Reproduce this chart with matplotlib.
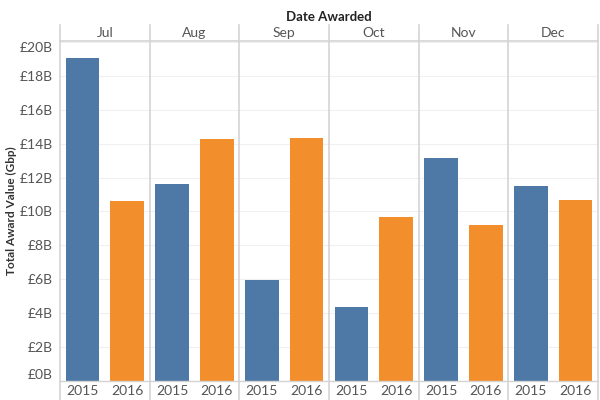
import matplotlib.pyplot as plt
from matplotlib.lines import Line2D

# data (billions of GBP)
months = ["Jul", "Aug", "Sep", "Oct", "Nov", "Dec"]
years = ["2015", "2016"]
values_2015 = [19.05, 11.6, 5.95, 4.35, 13.15, 11.5]
values_2016 = [10.6, 14.25, 14.35, 9.7, 9.2, 10.7]
yticks = [0, 2, 4, 6, 8, 10, 12, 14, 16, 18, 20]

blue = "#4e79a7"
orange = "#f28e2b"
sep_color = "#d4d4d4"
text_color = "#555555"

plt.rcParams['font.family'] = ['Lato', 'DejaVu Sans']

fig = plt.figure(figsize=(6, 4), dpi=100)
ax = fig.add_axes([0.1, 0.0475, 0.8967, 0.85])

# bars: two per month panel
xs, heights, colors, xlabels = [], [], [], []
for i in range(len(months)):
    for j, vals in enumerate([values_2015, values_2016]):
        xs.append(2 * i + j)
        heights.append(vals[i])
        colors.append(blue if j == 0 else orange)
        xlabels.append(years[j])
ax.bar(xs, heights, width=0.75, color=colors, zorder=2)

ax.set_xlim(-0.5, 2 * len(months) - 0.5)
ax.set_ylim(0, 20.05)

# y axis
ax.set_yticks(yticks)
labels = ax.set_yticklabels([f"£{t}B" for t in yticks], color=text_color, fontsize=10)
labels[0].set_va("bottom")
labels[-1].set_va("top")
ax.tick_params(axis='y', length=0, pad=5)
ax.grid(axis='y', color="#f0f0f0", linewidth=0.8, zorder=0)
ax.set_ylabel("Total Award Value (Gbp)", fontsize=8.5, fontweight='bold', color="#333333")
ax.yaxis.set_label_coords(-0.08, 0.5)

# x axis with year labels
ax.set_xticks(xs)
ax.set_xticklabels(xlabels, color=text_color, fontsize=10)
ax.tick_params(axis='x', length=0, pad=3)

for s in ["top", "right", "left"]:
    ax.spines[s].set_visible(False)
ax.spines["bottom"].set_color(sep_color)
ax.spines["bottom"].set_linewidth(1)

# panel separators running from header down through year row
trans = ax.get_xaxis_transform()
for k in range(len(months) + 1):
    xpos = 2 * k - 0.5
    ax.add_line(Line2D([xpos, xpos], [-0.06, 1.048], transform=trans, color=sep_color,
                       linewidth=1.2, clip_on=False, zorder=3))

# header line and month labels
ax.add_line(Line2D([-0.5, 2 * len(months) - 0.5], [1.0, 1.0], transform=trans,
                   color=sep_color, linewidth=1.2, clip_on=False))
for i, m in enumerate(months):
    ax.text(2 * i + 0.5, 1.024, m, transform=trans, ha='center', va='center',
            fontsize=10, color=text_color)

ax.text(0.5, 1.07, "Date Awarded", transform=ax.transAxes, ha='center', va='center',
        fontsize=9.5, fontweight='bold', color="#222222")

fig.savefig("out.png", dpi=100)
